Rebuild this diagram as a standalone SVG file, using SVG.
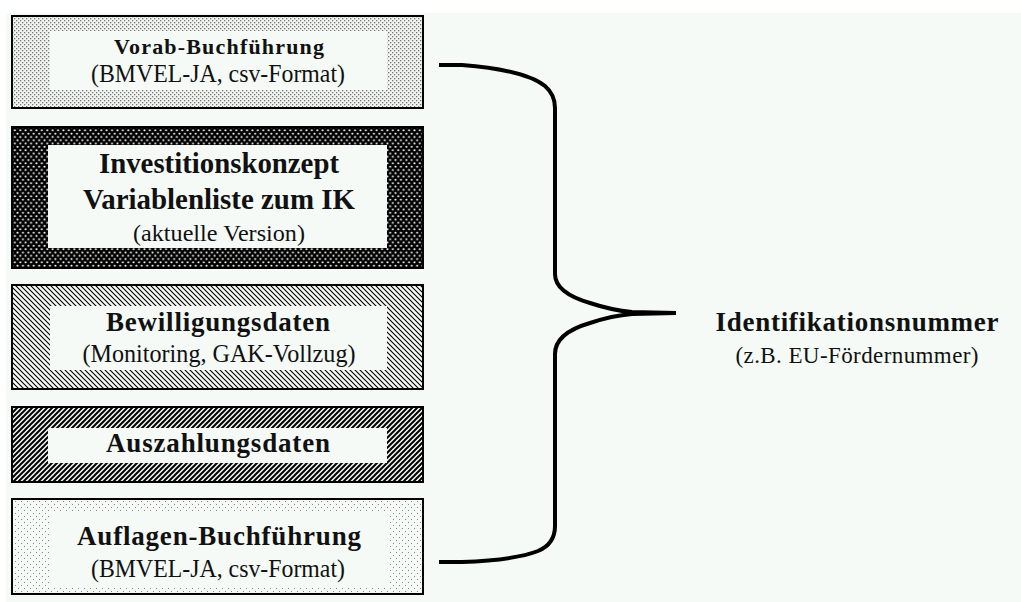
<svg xmlns="http://www.w3.org/2000/svg" width="1021" height="602" viewBox="0 0 1021 602">
<defs>
<pattern id="p1" width="4" height="4" patternUnits="userSpaceOnUse"><rect width="4" height="4" fill="#f0f4f1"/><rect x="0" y="0" width="1.3" height="1.3" fill="#777"/><rect x="2" y="2" width="1.3" height="1.3" fill="#777"/></pattern>
<pattern id="p2" width="5.4" height="6.6" patternUnits="userSpaceOnUse"><rect width="5.4" height="6.6" fill="#000"/><circle cx="1.35" cy="1.65" r="1.05" fill="#fff"/><circle cx="4.05" cy="4.95" r="1.05" fill="#fff"/></pattern>
<pattern id="p3" width="5" height="5" patternUnits="userSpaceOnUse"><rect width="5" height="5" fill="#f5faf7"/><path d="M0,0 L5,5 M-1,4 L1,6 M4,-1 L6,1" stroke="#000" stroke-width="1.1"/></pattern>
<pattern id="p4" width="5" height="5" patternUnits="userSpaceOnUse"><rect width="5" height="5" fill="#f5faf7"/><path d="M0,5 L5,0 M-1,1 L1,-1 M4,6 L6,4" stroke="#000" stroke-width="2"/></pattern>
<pattern id="p5" width="6" height="6" patternUnits="userSpaceOnUse"><rect width="6" height="6" fill="#f5faf7"/><rect x="0" y="0" width="1" height="1" fill="#888"/><rect x="3" y="3" width="1" height="1" fill="#888"/></pattern>
</defs>
<style>
.box{stroke:#000;stroke-width:2}
.inner{fill:#f5faf7}
.b{font-family:"Liberation Serif","Times New Roman",serif;font-weight:bold;fill:#111;text-anchor:middle}
.r{font-family:"Liberation Serif","Times New Roman",serif;fill:#111;text-anchor:middle}
.brace{fill:none;stroke:#000;stroke-width:4;stroke-linecap:butt;stroke-linejoin:round}
</style>
<rect width="1021" height="602" fill="#fff"/>
<rect x="6" y="13" width="1015" height="589" fill="#f5faf7"/>

<g id="node-vorab">
<rect class="box" x="12" y="16" width="411" height="92" fill="url(#p1)"/>
<rect class="inner" x="50" y="31" width="337" height="59"/>
<text class="b" x="219" y="54" font-size="22" textLength="210" lengthAdjust="spacing">Vorab-Buchführung</text>
<text class="r" x="218" y="82" font-size="25" textLength="254" lengthAdjust="spacingAndGlyphs">(BMVEL-JA, csv-Format)</text>
</g>

<g id="node-invest">
<rect class="box" x="12" y="127" width="411" height="141" fill="url(#p2)"/>
<rect class="inner" x="48" y="145" width="339" height="103"/>
<text class="b" x="219" y="173" font-size="29" textLength="240" lengthAdjust="spacingAndGlyphs">Investitionskonzept</text>
<text class="b" x="219" y="209" font-size="29" textLength="272" lengthAdjust="spacingAndGlyphs">Variablenliste zum IK</text>
<text class="r" x="219" y="241" font-size="24" textLength="172" lengthAdjust="spacingAndGlyphs">(aktuelle Version)</text>
</g>

<g id="node-bewilligung">
<rect class="box" x="12" y="285" width="411" height="104" fill="url(#p3)"/>
<rect class="inner" x="50" y="306" width="337" height="64"/>
<text class="b" x="218" y="331" font-size="27" textLength="224" lengthAdjust="spacing">Bewilligungsdaten</text>
<text class="r" x="219" y="362" font-size="25" textLength="273" lengthAdjust="spacingAndGlyphs">(Monitoring, GAK-Vollzug)</text>
</g>

<g id="node-auszahlung">
<rect class="box" x="12" y="407" width="411" height="75" fill="url(#p4)"/>
<rect class="inner" x="48" y="428" width="339" height="35"/>
<text class="b" x="218" y="452" font-size="27" textLength="224" lengthAdjust="spacing">Auszahlungsdaten</text>
</g>

<g id="node-auflagen">
<rect class="box" x="12" y="499" width="411" height="95" fill="url(#p5)"/>
<rect class="inner" x="49" y="512" width="341" height="75"/>
<text class="b" x="219" y="545" font-size="27" textLength="284" lengthAdjust="spacing">Auflagen-Buchführung</text>
<text class="r" x="218" y="577" font-size="25" textLength="254" lengthAdjust="spacingAndGlyphs">(BMVEL-JA, csv-Format)</text>
</g>

<g id="node-id">
<text class="b" x="857" y="331" font-size="27" textLength="283" lengthAdjust="spacing">Identifikationsnummer</text>
<text class="r" x="857" y="363" font-size="23" textLength="243" lengthAdjust="spacing">(z.B. EU-Fördernummer)</text>
</g>

<g id="connectors">
<path class="brace" d="M439,65 L462,65 C500,68 530,74 545,86 C553,93 555,100 555,108 L555,274 C555,286 566,296 590,303 C605,308 620,311 632,312 L676,313"/>
<path class="brace" d="M676,313 L632,314 C620,315 605,318 590,323 C566,330 555,340 555,354 L555,526 C555,538 550,546 538,551 C520,558 490,561 462,562 L439,562"/>
</g>
</svg>
